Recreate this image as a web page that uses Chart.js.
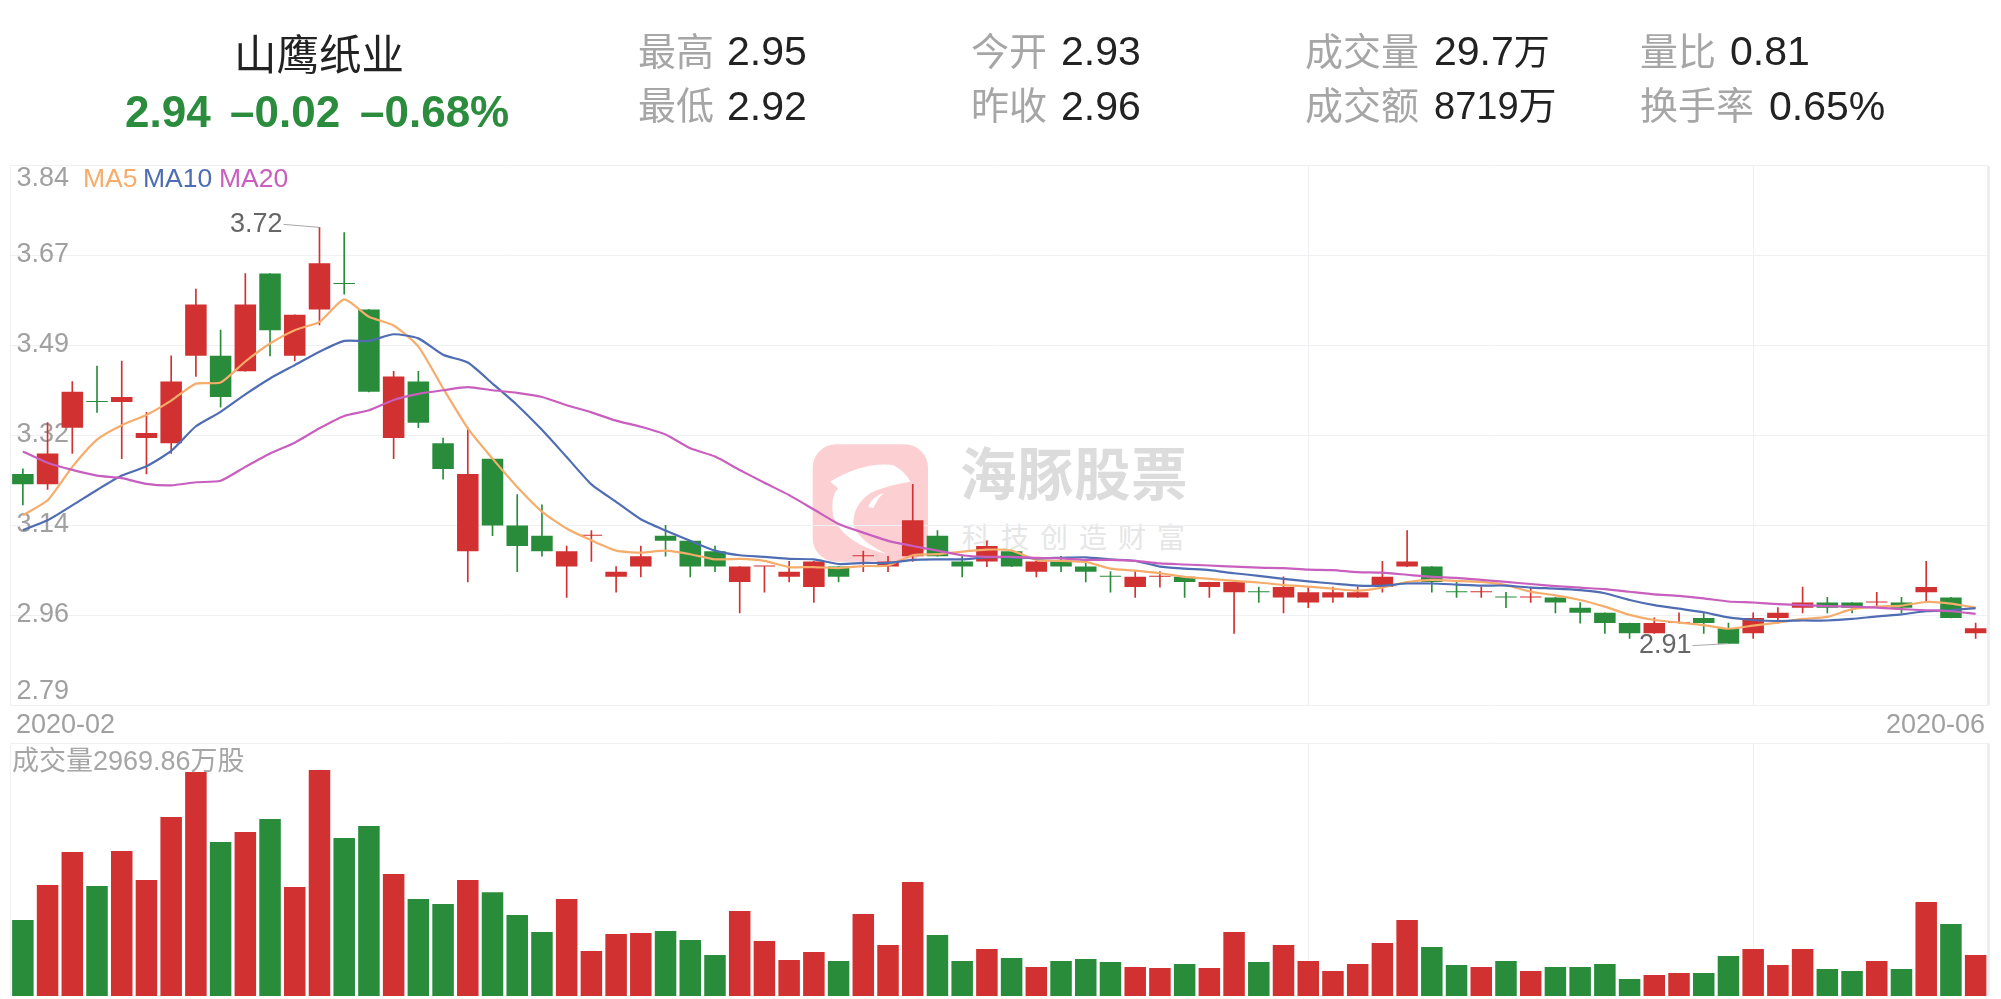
<!DOCTYPE html>
<html lang="zh">
<head>
<meta charset="utf-8">
<title>山鹰纸业</title>
<script src="https://cdn.jsdelivr.net/npm/chart.js@4"></script>
<style>
html,body{margin:0;padding:0;background:#fff;width:2001px;height:999px;overflow:hidden}
body{position:relative;font-family:"Liberation Sans","Noto Sans CJK SC",sans-serif}
.t{position:absolute;white-space:nowrap;line-height:1}
canvas{position:absolute;left:0;top:0}
.l{color:#a6a6a6;font-size:38px}
.v{color:#222;font-size:41px}
.m{font-size:26.5px}
.g{font-size:44px;font-weight:700;color:#2a8c3c}
</style>
</head>
<body>
<svg style="position:absolute;left:0;top:0" width="2001" height="999" viewBox="0 0 2001 999">
  <g transform="translate(790 430) scale(.3333)">
    <rect x="68" y="43" width="346" height="352" rx="70" fill="#fcd0d3"/>
    <path d="M120 155 Q220 95 310 105 Q345 125 362 155 Q290 165 240 190 Q190 225 190 280 Q200 330 290 372 Q160 340 130 260 Q120 200 145 175 Z" fill="#fff"/>
    <path d="M235 230 Q245 200 282 188 Q262 205 250 235 Z" fill="#fff"/>
  </g>
</svg>
<div class="t" style="left:960px;top:448px;font-size:56.5px;font-weight:700;color:#dcdcdc;letter-spacing:.5px">海豚股票</div>
<div class="t" style="left:962px;top:525px;font-size:28px;color:#e6e6e6;letter-spacing:11px">科技创造财富</div>

<canvas id="price" width="2001" height="999"></canvas>
<canvas id="volume" width="2001" height="999"></canvas>

<div class="t" style="left:234px;top:35px;font-size:42.5px;color:#222">山鹰纸业</div>
<div class="t g" style="left:125px;top:90px">2.94</div>
<div class="t g" style="left:230px;top:90px">–0.02</div>
<div class="t g" style="left:360px;top:90px">–0.68%</div>

<div class="t l" style="left:638px;top:33px">最高</div><div class="t v" style="left:727px;top:31px">2.95</div>
<div class="t l" style="left:638px;top:87px">最低</div><div class="t v" style="left:727px;top:86px">2.92</div>
<div class="t l" style="left:971px;top:33px">今开</div><div class="t v" style="left:1061px;top:31px">2.93</div>
<div class="t l" style="left:971px;top:87px">昨收</div><div class="t v" style="left:1061px;top:86px">2.96</div>
<div class="t l" style="left:1305px;top:33px">成交量</div><div class="t v" style="left:1434px;top:31px">29.7<span style="font-size:36px">万</span></div>
<div class="t l" style="left:1305px;top:87px">成交额</div><div class="t v" style="left:1434px;top:87px;font-size:38px">8719万</div>
<div class="t l" style="left:1640px;top:33px">量比</div><div class="t v" style="left:1730px;top:31px">0.81</div>
<div class="t l" style="left:1640px;top:87px">换手率</div><div class="t v" style="left:1769px;top:86px">0.65%</div>

<div class="t m" style="left:83px;top:165px;color:#f6ac6a">MA5</div>
<div class="t m" style="left:143px;top:165px;color:#4f6db3">MA10</div>
<div class="t m" style="left:219px;top:165px;color:#c85fbf">MA20</div>
<div class="t" style="left:12px;top:748px;font-size:27px;color:#a6a6a6">成交量2969.86万股</div>
<div class="t" id="dateStart" style="left:16px;top:711px;font-size:27px;color:#a0a0a0"></div>
<div class="t" id="dateEnd" style="right:16px;top:711px;font-size:27px;color:#a0a0a0"></div>

<script>
const opens = [3.24,3.22,3.33,3.38,3.38,3.31,3.30,3.47,3.47,3.44,3.63,3.47,3.56,3.61,3.56,3.31,3.42,3.30,3.09,3.27,
3.14,3.12,3.06,3.12,3.04,3.06,3.12,3.11,3.09,3.03,3.06,3.04,3.02,3.06,3.08,3.06,3.08,3.12,3.07,3.07,
3.09,3.05,3.07,3.06,3.04,3.02,3.04,3.04,3.02,3.01,3.01,3.00,2.99,3.00,3.00,3.02,3.06,3.06,3.01,3.01,
3.00,3.00,3.00,2.98,2.97,2.95,2.93,2.95,2.96,2.94,2.93,2.96,2.98,2.99,2.99,2.99,2.99,3.01,3.00,2.93];
const closes = [3.22,3.28,3.40,3.38,3.39,3.32,3.42,3.57,3.39,3.57,3.52,3.55,3.65,3.61,3.40,3.43,3.34,3.25,3.24,3.14,
3.10,3.09,3.09,3.12,3.05,3.08,3.11,3.06,3.06,3.06,3.06,3.05,3.07,3.04,3.08,3.07,3.15,3.08,3.06,3.10,
3.06,3.07,3.06,3.05,3.04,3.04,3.04,3.03,3.03,3.03,3.01,3.02,3.01,3.01,3.01,3.04,3.07,3.03,3.01,3.01,
3.00,3.00,2.99,2.97,2.95,2.93,2.95,2.95,2.95,2.91,2.96,2.97,2.99,2.98,2.98,2.99,2.98,3.02,2.96,2.94];
const highs = [3.25,3.34,3.42,3.45,3.46,3.36,3.47,3.60,3.52,3.63,3.63,3.55,3.72,3.71,3.56,3.44,3.44,3.31,3.33,3.27,
3.20,3.18,3.10,3.13,3.06,3.10,3.14,3.11,3.10,3.06,3.06,3.07,3.07,3.06,3.09,3.08,3.22,3.13,3.08,3.11,
3.09,3.07,3.08,3.07,3.05,3.05,3.05,3.04,3.03,3.03,3.02,3.04,3.02,3.02,3.02,3.07,3.13,3.06,3.03,3.02,
3.01,3.02,3.00,2.99,2.97,2.95,2.96,2.97,2.97,2.95,2.97,2.98,3.02,3.00,2.99,3.01,3.00,3.07,3.00,2.95];
const lows = [3.18,3.21,3.28,3.36,3.27,3.24,3.28,3.43,3.37,3.44,3.47,3.46,3.53,3.59,3.40,3.27,3.33,3.23,3.03,3.12,
3.05,3.08,3.00,3.07,3.01,3.04,3.08,3.04,3.05,2.97,3.01,3.03,2.99,3.03,3.05,3.05,3.07,3.08,3.04,3.06,
3.06,3.04,3.05,3.03,3.01,3.00,3.02,3.00,3.00,2.93,2.99,2.97,2.98,2.99,3.00,3.01,3.06,3.01,3.00,3.00,
2.98,2.99,2.97,2.95,2.93,2.92,2.93,2.95,2.93,2.91,2.92,2.95,2.97,2.97,2.97,2.98,2.97,2.99,2.96,2.92];
const ma5 = [3.160,3.189,3.254,3.307,3.335,3.355,3.383,3.416,3.418,3.459,3.494,3.520,3.536,3.580,3.546,3.529,3.488,3.407,3.329,3.270,
3.215,3.167,3.134,3.111,3.091,3.087,3.091,3.084,3.074,3.075,3.071,3.059,3.059,3.057,3.061,3.062,3.082,3.084,3.089,3.093,
3.091,3.073,3.071,3.069,3.056,3.052,3.047,3.040,3.036,3.032,3.029,3.024,3.021,3.017,3.013,3.019,3.030,3.034,3.032,3.030,
3.024,3.011,3.004,2.995,2.982,2.966,2.956,2.951,2.946,2.939,2.945,2.951,2.958,2.962,2.977,2.982,2.984,2.991,2.988,2.980];
const ma10 = [3.131,3.150,3.179,3.209,3.237,3.255,3.285,3.333,3.361,3.395,3.426,3.452,3.478,3.499,3.499,3.512,3.504,3.472,3.457,3.416,
3.374,3.326,3.273,3.220,3.186,3.152,3.130,3.110,3.091,3.082,3.079,3.075,3.074,3.065,3.067,3.067,3.073,3.074,3.074,3.078,
3.078,3.076,3.077,3.078,3.074,3.071,3.060,3.056,3.053,3.047,3.042,3.036,3.031,3.027,3.023,3.023,3.027,3.027,3.025,3.023,
3.023,3.019,3.017,3.014,3.008,2.995,2.985,2.978,2.971,2.961,2.956,2.954,2.955,2.955,2.958,2.963,2.967,2.973,2.975,2.979];
const ma20 = [3.284,3.262,3.248,3.237,3.232,3.221,3.218,3.224,3.227,3.254,3.280,3.301,3.329,3.353,3.364,3.384,3.396,3.403,3.409,3.403,
3.398,3.390,3.374,3.360,3.344,3.332,3.317,3.290,3.274,3.248,3.223,3.199,3.171,3.143,3.126,3.110,3.100,3.091,3.082,3.079,
3.079,3.077,3.076,3.073,3.073,3.071,3.066,3.064,3.062,3.060,3.058,3.057,3.054,3.053,3.049,3.048,3.044,3.040,3.038,3.034,
3.030,3.026,3.022,3.019,3.016,3.011,3.006,3.003,2.998,2.992,2.990,2.987,2.985,2.983,2.982,2.980,2.977,2.975,2.973,2.968];
const volumes = [5504,8039,10428,7966,10501,8401,12963,16222,11153,11877,12818,7894,16367,11442,12311,8835,7025,6663,8401,7508,
5866,4635,7025,3259,4490,4562,4707,4056,2969,6156,3983,2607,3186,2535,5938,3693,8256,4418,2535,3404,
2752,2100,2535,2680,2462,2100,2028,2317,2028,4635,2462,3693,2535,1811,2317,3838,5504,3549,2245,2100,
2535,1811,2100,2100,2317,1231,1521,1666,1666,2897,3404,2245,3404,1955,1811,2535,1955,6807,5214,2970];
const categories = opens.map((_, i) => String(i));
const dateTickLabels = ['2020-02', '2020-06'];
const monthGridIndexes = [52, 70];
const priceTickValues = [3.84, 3.665, 3.49, 3.315, 3.14, 2.965, 2.79];
const priceTickLabels = ['3.84', '3.67', '3.49', '3.32', '3.14', '2.96', '2.79'];
const peakNote = {index: 12, value: 3.72, text: '3.72'};
const troughNote = {index: 69, value: 2.91, text: '2.91'};

document.getElementById('dateStart').textContent = dateTickLabels[0];
document.getElementById('dateEnd').textContent = dateTickLabels[1];

const RED = '#d13131', GREEN = '#288c3b', GRID = '#eef0f3', EDGE = '#e9ebf5';
const TICK_FONT = {family: '"Liberation Sans","Noto Sans CJK SC",sans-serif', size: 27};
const isUp = i => closes[i] > opens[i] || (closes[i] === opens[i] && (i === 0 || closes[i] >= closes[i - 1]));
const colors = opens.map((_, i) => isUp(i) ? RED : GREEN);
const PLOT = {left: 10.5, right: 1988};
const pad = (top, bottom) => ({left: PLOT.left, right: 2001 - PLOT.right, top, bottom: 999 - bottom});
const xGrid = c => monthGridIndexes.includes(c.index) ? GRID : 'rgba(0,0,0,0)';

const frame = {
  id: 'frame',
  afterDraw(chart) {
    const {ctx, chartArea: a} = chart;
    ctx.save();
    ctx.strokeStyle = EDGE; ctx.lineWidth = 2.5;
    ctx.beginPath(); ctx.moveTo(a.right + .5, a.top); ctx.lineTo(a.right + .5, a.bottom); ctx.stroke();
    ctx.restore();
  }
};
const tickPlacement = {
  id: 'tickPlacement',
  beforeDraw(chart) {
    const a = chart.chartArea, y = chart.scales.y;
    y.getLabelItems().forEach((it, i, all) => {
      it.options.textAlign = 'left';
      it.options.textBaseline = 'middle';
      it.options.translation[0] = a.left + 6;
      it.options.translation[1] += i === 0 ? 13 : i === all.length - 1 ? -14 : -1;
    });
  }
};
const notes = {
  id: 'notes',
  afterDraw(chart) {
    const {ctx, scales: {x, y}} = chart;
    const draw = (n, tx, ty, lx, ly) => {
      const px = x.getPixelForValue(n.index), py = y.getPixelForValue(n.value);
      ctx.save();
      ctx.strokeStyle = '#a8a8a8'; ctx.lineWidth = 1;
      ctx.beginPath(); ctx.moveTo(px + lx, py + ly); ctx.lineTo(px, py); ctx.stroke();
      ctx.fillStyle = '#666'; ctx.font = '27px "Liberation Sans"';
      ctx.textAlign = 'right'; ctx.textBaseline = 'middle';
      ctx.fillText(n.text, px + tx, py + ty);
      ctx.restore();
    };
    draw(peakNote, -37, -3, -36, -3);
    draw(troughNote, -37, 2, -36, 2);
  }
};

new Chart(document.getElementById('price'), {
  data: {
    labels: categories,
    datasets: [
      {type: 'line', label: 'MA20', data: ma20, borderColor: '#c85fbf', order: 0},
      {type: 'line', label: 'MA10', data: ma10, borderColor: '#4f6db3', order: 1},
      {type: 'line', label: 'MA5', data: ma5, borderColor: '#f6ac6a', order: 2},
      {type: 'bar', label: 'body', data: opens.map((o, i) => [o, closes[i]]), backgroundColor: colors,
       barPercentage: .87, categoryPercentage: 1, minBarLength: 1, grouped: false, order: 3},
      {type: 'bar', label: 'wick', data: lows.map((l, i) => [l, highs[i]]), backgroundColor: colors,
       barThickness: 1, grouped: false, order: 4}
    ].map(d => d.type === 'line' ? {...d, borderWidth: 2.2, pointRadius: 0, tension: .2, fill: false} : d)
  },
  options: {
    responsive: false, animation: false, events: [], devicePixelRatio: 1,
    layout: {padding: pad(165.7, 705.3)},
    plugins: {legend: {display: false}, tooltip: {enabled: false}},
    scales: {
      x: {
        type: 'category', offset: true,
        afterFit: s => { s.height = 0; },
        border: {display: false},
        grid: {offset: false, color: xGrid, tickLength: 0, drawTicks: false},
        ticks: {display: false}
      },
      y: {
        min: 2.79, max: 3.84, position: 'left',
        afterFit: s => { s.width = 0; },
        afterBuildTicks: s => { s.ticks = priceTickValues.map(value => ({value})); },
        border: {color: GRID},
        grid: {color: GRID, drawTicks: false},
        ticks: {mirror: true, color: '#a0a0a0', font: TICK_FONT, padding: 0,
                callback: (v, i) => priceTickLabels[i]}
      }
    }
  },
  plugins: [tickPlacement, frame, notes]
});

new Chart(document.getElementById('volume'), {
  data: {
    labels: categories,
    datasets: [{type: 'bar', label: '成交量', data: volumes, backgroundColor: colors,
                barPercentage: .87, categoryPercentage: 1}]
  },
  options: {
    responsive: false, animation: false, events: [], devicePixelRatio: 1,
    layout: {padding: pad(743.3, 996)},
    plugins: {legend: {display: false}, tooltip: {enabled: false}},
    scales: {
      x: {
        type: 'category', offset: true,
        afterFit: s => { s.height = 0; },
        border: {display: false},
        grid: {offset: false, color: xGrid, drawTicks: false},
        ticks: {display: false}
      },
      y: {
        min: 0, max: 18300, position: 'left',
        afterFit: s => { s.width = 0; },
        afterBuildTicks: s => { s.ticks = [{value: s.max}]; },
        border: {color: GRID},
        grid: {color: GRID, drawTicks: false},
        ticks: {display: false}
      }
    }
  },
  plugins: [frame]
});
</script>
</body>
</html>
